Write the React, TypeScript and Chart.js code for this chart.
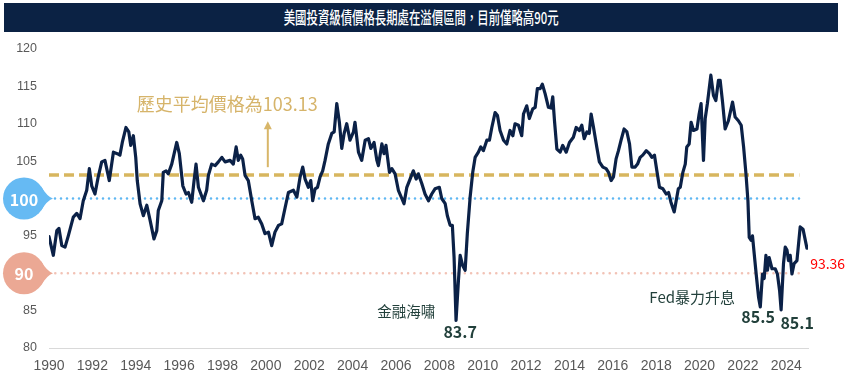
import React, { useEffect, useRef } from "react";
import { Chart, registerables } from "chart.js";

Chart.register(...registerables);

const years = [
  1990.00, 1990.20, 1990.36, 1990.46, 1990.59, 1990.74, 1990.89, 1991.12, 1991.28, 1991.43,
  1991.58, 1991.74, 1991.86, 1991.97, 1992.12, 1992.27, 1992.43, 1992.58, 1992.78, 1992.97,
  1993.15, 1993.27, 1993.38, 1993.55, 1993.68, 1993.77, 1993.89, 1994.00, 1994.07, 1994.20,
  1994.35, 1994.51, 1994.66, 1994.84, 1994.97, 1995.04, 1995.20, 1995.27, 1995.40, 1995.50,
  1995.66, 1995.89, 1996.01, 1996.17, 1996.32, 1996.43, 1996.58, 1996.69, 1996.78, 1996.89,
  1997.12, 1997.27, 1997.35, 1997.50, 1997.66, 1997.81, 1997.97, 1998.12, 1998.35, 1998.50,
  1998.63, 1998.73, 1998.84, 1998.93, 1999.04, 1999.19, 1999.35, 1999.50, 1999.65, 1999.81,
  1999.96, 2000.12, 2000.27, 2000.42, 2000.58, 2000.73, 2000.89, 2001.04, 2001.27, 2001.43,
  2001.58, 2001.70, 2001.81, 2001.96, 2002.07, 2002.16, 2002.27, 2002.38, 2002.50, 2002.62,
  2002.73, 2002.88, 2003.04, 2003.15, 2003.27, 2003.39, 2003.50, 2003.61, 2003.73, 2003.88,
  2004.04, 2004.11, 2004.27, 2004.42, 2004.58, 2004.73, 2004.84, 2004.99, 2005.12, 2005.19,
  2005.35, 2005.45, 2005.54, 2005.70, 2005.81, 2005.96, 2006.11, 2006.27, 2006.37, 2006.50,
  2006.65, 2006.80, 2006.93, 2007.03, 2007.19, 2007.34, 2007.50, 2007.65, 2007.80, 2008.00,
  2008.11, 2008.27, 2008.37, 2008.50, 2008.60, 2008.68, 2008.77, 2008.88, 2008.96, 2009.08,
  2009.19, 2009.29, 2009.42, 2009.54, 2009.65, 2009.80, 2009.91, 2010.03, 2010.19, 2010.31,
  2010.42, 2010.57, 2010.68, 2010.80, 2010.96, 2011.11, 2011.26, 2011.39, 2011.49, 2011.65,
  2011.80, 2011.88, 2012.03, 2012.15, 2012.31, 2012.42, 2012.52, 2012.65, 2012.75, 2012.88,
  2013.03, 2013.15, 2013.23, 2013.31, 2013.42, 2013.57, 2013.69, 2013.85, 2014.00, 2014.18,
  2014.31, 2014.46, 2014.57, 2014.68, 2014.80, 2014.91, 2015.00, 2015.11, 2015.26, 2015.38,
  2015.54, 2015.69, 2015.80, 2015.92, 2016.03, 2016.15, 2016.26, 2016.38, 2016.52, 2016.65,
  2016.77, 2016.88, 2017.03, 2017.14, 2017.26, 2017.38, 2017.54, 2017.69, 2017.80, 2017.92,
  2018.03, 2018.15, 2018.31, 2018.46, 2018.57, 2018.68, 2018.83, 2019.02, 2019.11, 2019.23,
  2019.34, 2019.41, 2019.52, 2019.61, 2019.72, 2019.88, 2019.98, 2020.07, 2020.18, 2020.26,
  2020.36, 2020.52, 2020.64, 2020.75, 2020.87, 2020.95, 2021.06, 2021.18, 2021.33, 2021.52,
  2021.64, 2021.79, 2021.92, 2022.03, 2022.14, 2022.23, 2022.29, 2022.38, 2022.44, 2022.52,
  2022.61, 2022.72, 2022.80, 2022.90, 2022.98, 2023.06, 2023.13, 2023.21, 2023.34, 2023.49,
  2023.59, 2023.69, 2023.76, 2023.87, 2023.95, 2024.03, 2024.10, 2024.18, 2024.26, 2024.36,
  2024.49, 2024.64, 2024.77, 2024.95,
];

const prices = [
  94.9, 92.4, 95.7, 96.0, 93.7, 93.5, 95.0, 97.5, 98.0, 97.3,
  99.7, 101.1, 104.0, 101.7, 100.6, 102.9, 104.9, 105.1, 102.4, 106.2,
  106.0, 105.8, 107.5, 109.5, 108.9, 107.1, 108.4, 105.5, 102.4, 99.3,
  97.7, 99.1, 97.1, 94.6, 95.7, 98.4, 99.7, 103.5, 103.7, 103.3,
  104.6, 107.5, 106.0, 101.7, 100.6, 100.8, 99.5, 102.4, 104.6, 101.5,
  99.7, 101.1, 103.1, 104.6, 104.4, 104.9, 105.5, 104.9, 105.1, 104.6,
  106.9, 105.1, 105.8, 105.3, 103.1, 102.4, 99.7, 97.3, 97.5, 96.6,
  95.3, 95.5, 93.7, 95.5, 96.4, 96.6, 98.8, 100.8, 101.1, 100.2,
  102.9, 104.2, 102.6, 101.5, 102.4, 99.7, 101.3, 101.5, 102.9, 103.7,
  105.1, 107.3, 108.7, 108.9, 112.7, 110.2, 106.7, 108.7, 110.0, 107.8,
  108.9, 110.2, 106.2, 105.1, 107.8, 108.0, 106.7, 107.5, 105.1, 104.4,
  107.3, 106.0, 107.1, 103.5, 104.0, 103.3, 101.1, 100.0, 99.3, 101.5,
  102.6, 103.7, 102.6, 103.3, 102.0, 100.6, 99.7, 100.6, 101.3, 101.5,
  100.0, 99.3, 97.7, 96.4, 96.4, 92.1, 83.7, 89.0, 92.4, 91.0,
  90.4, 95.3, 100.2, 103.5, 105.5, 106.2, 106.9, 106.4, 107.8, 107.8,
  109.5, 111.5, 111.1, 109.1, 107.8, 107.3, 109.1, 108.4, 110.0, 109.8,
  108.4, 111.3, 112.4, 110.7, 112.0, 112.2, 114.7, 114.7, 115.3, 114.0,
  112.2, 112.1, 113.6, 110.4, 106.6, 106.2, 107.1, 106.2, 107.5, 108.2,
  109.5, 109.1, 109.8, 108.0, 108.9, 108.7, 111.3, 109.5, 106.9, 104.9,
  104.2, 104.0, 103.5, 102.4, 102.9, 105.3, 106.4, 107.8, 109.3, 108.9,
  107.3, 104.2, 104.2, 104.6, 105.5, 105.8, 106.4, 106.0, 105.5, 105.8,
  103.7, 101.5, 101.3, 100.6, 100.8, 99.5, 98.2, 101.3, 101.5, 103.5,
  104.6, 106.9, 107.3, 110.2, 109.1, 109.3, 111.3, 112.7, 105.1, 110.7,
  112.7, 116.5, 113.8, 113.1, 115.8, 115.8, 112.9, 109.3, 110.4, 112.9,
  110.9, 110.4, 109.8, 106.9, 103.3, 99.7, 94.8, 94.4, 95.0, 92.6,
  89.9, 86.8, 85.5, 89.9, 89.3, 92.4, 90.4, 92.1, 90.6, 90.6,
  89.9, 87.7, 85.1, 91.3, 93.5, 93.1, 91.7, 92.4, 89.9, 91.3,
  91.7, 96.2, 95.9, 93.36,
];

const avgPrice = 103.13;
const parLevel = 100;
const floorLevel = 90;
const refLineRange = [1990, 2024.6];
const tickYears = [1990, 1992, 1994, 1996, 1998, 2000, 2002, 2004, 2006, 2008, 2010, 2012, 2014, 2016, 2018, 2020, 2022, 2024];
const yTickValues = [80, 85, 90, 95, 100, 105, 110, 115, 120];

const titleText = "美國投資級債價格長期處在溢價區間，目前僅略高90元";
const avgLabel = "歷史平均價格為103.13";
const gfcLabel = "金融海嘯";
const gfcLow = "83.7";
const fedLabel = "Fed暴力升息";
const fedLow1 = "85.5";
const fedLow2 = "85.1";
const lastLabel = "93.36";

const CJK = "'Noto Sans CJK TC', 'Noto Sans', sans-serif";

const overlayPlugin = {
  id: "overlay",
  afterDraw(chart: any) {
    const { ctx } = chart;
    const xs = chart.scales.x;
    const ys = chart.scales.y;
    const px = (v: number) => xs.getPixelForValue(v);
    const py = (v: number) => ys.getPixelForValue(v);
    ctx.save();

    // arrow
    const ax = px(2000.09);
    const aTop = py(110.34);
    const aBot = py(104.19);
    ctx.strokeStyle = "#d8b669";
    ctx.fillStyle = "#d8b669";
    ctx.lineWidth = 2;
    ctx.beginPath();
    ctx.moveTo(ax, aBot);
    ctx.lineTo(ax, aTop + 6);
    ctx.stroke();
    ctx.beginPath();
    ctx.moveTo(ax, aTop);
    ctx.lineTo(ax - 4, aTop + 8);
    ctx.lineTo(ax + 4, aTop + 8);
    ctx.closePath();
    ctx.fill();

    const text = (s: string, x: number, y: number, font: string, color: string, align: CanvasTextAlign = "center") => {
      ctx.font = font;
      ctx.fillStyle = color;
      ctx.textAlign = align;
      ctx.textBaseline = "middle";
      ctx.fillText(s, x, y);
    };

    text(avgLabel, px(1994.05), py(112.6), `18px ${CJK}`, "#d6b46a", "left");
    text(gfcLabel, px(2006.47), py(84.88), `14.5px ${CJK}`, "#22403b");
    text(gfcLow, px(2008.96), py(82.21), `bold 16px ${CJK}`, "#22403b");
    text(fedLabel, px(2019.66), py(86.76), `15px ${CJK}`, "#22403b");
    text(fedLow1, px(2022.7), py(84.22), `bold 16px ${CJK}`, "#22403b");
    text(fedLow2, px(2024.5), py(83.41), `bold 16px ${CJK}`, "#22403b");
    text(lastLabel, px(2025.1), py(91.3), `14px ${CJK}`, "#ff0000", "left");

    const bubble = (val: number, color: string, label: string) => {
      const cy = py(val);
      const cx = 24;
      const r = 21;
      const tip = 53;
      ctx.fillStyle = color;
      ctx.beginPath();
      ctx.arc(cx, cy, r, 0, Math.PI * 2);
      ctx.fill();
      const a = (35 * Math.PI) / 180;
      ctx.beginPath();
      ctx.moveTo(cx + r * Math.cos(a), cy - r * Math.sin(a));
      ctx.quadraticCurveTo(cx + r + 2, cy - 2, tip, cy);
      ctx.quadraticCurveTo(cx + r + 2, cy + 2, cx + r * Math.cos(a), cy + r * Math.sin(a));
      ctx.closePath();
      ctx.fill();
      text(label, cx, cy + 1, `bold 16px ${CJK}`, "#ffffff");
    };
    bubble(parLevel, "#66baf3", String(parLevel));
    bubble(floorLevel, "#eba894", String(floorLevel));

    ctx.restore();
  },
};

export default function App() {
  const ref = useRef<HTMLCanvasElement | null>(null);

  useEffect(() => {
    if (!ref.current) return;
    const points = years.map((x, i) => ({ x, y: prices[i] }));
    const hline = (v: number) => refLineRange.map((x) => ({ x, y: v }));
    const chart = new Chart(ref.current, {
      type: "line",
      data: {
        datasets: [
          {
            label: "價格",
            data: points,
            borderColor: "#0b2147",
            borderWidth: 3.2,
            pointRadius: 0,
            tension: 0,
            borderJoinStyle: "round",
            borderCapStyle: "round",
          },
          {
            label: "平均",
            data: hline(avgPrice),
            borderColor: "#d7b65f",
            borderWidth: 3.5,
            borderDash: [10, 5],
            pointRadius: 0,
          },
          {
            label: "100",
            data: hline(parLevel),
            borderColor: "#5fb7f2",
            borderWidth: 2.6,
            borderDash: [0, 6],
            borderCapStyle: "round",
            pointRadius: 0,
          },
          {
            label: "90",
            data: hline(floorLevel),
            borderColor: "#f2c2b5",
            borderWidth: 2.6,
            borderDash: [0, 6.3],
            borderCapStyle: "round",
            pointRadius: 0,
          },
        ],
      },
      options: {
        animation: false,
        responsive: false,
        devicePixelRatio: 1,
        layout: { padding: { top: 49, right: 40, left: 0, bottom: 0 } },
        plugins: { legend: { display: false }, tooltip: { enabled: false }, title: { display: false } },
        scales: {
          x: {
            type: "linear",
            min: 1990,
            max: 2025,
            afterBuildTicks: (s: any) => {
              s.ticks = tickYears.map((v) => ({ value: v }));
            },
            afterFit: (s: any) => {
              s.height = 23;
            },
            grid: { display: false },
            border: { display: true, color: "#d9d9d9", width: 1 },
            ticks: {
              autoSkip: false,
              maxRotation: 0,
              padding: 2,
              color: "#595959",
              font: { family: "'Liberation Sans Narrow', 'Liberation Sans', sans-serif", size: 14 },
              callback: (v: any) => String(v),
            },
          },
          y: {
            type: "linear",
            min: 80,
            max: 120,
            afterBuildTicks: (s: any) => {
              s.ticks = yTickValues.map((v) => ({ value: v }));
            },
            afterFit: (s: any) => {
              s.width = 49;
            },
            grid: { display: false, drawTicks: false },
            border: { display: false },
            ticks: {
              padding: 12,
              color: "#595959",
              font: { family: "'Liberation Sans', sans-serif", size: 12.5 },
              callback: (v: any) => (v === parLevel || v === floorLevel ? "" : String(v)),
            },
          },
        },
      },
      plugins: [overlayPlugin],
    } as any);
    return () => chart.destroy();
  }, []);

  return (
    <div style={{ position: "fixed", left: 0, top: 0, width: 848, height: 371, background: "#ffffff" }}>
      <canvas ref={ref} width={848} height={371} style={{ position: "absolute", left: 0, top: 0, width: 848, height: 371 }} />
      <div
        style={{
          position: "absolute",
          left: 4,
          top: 3,
          width: 834,
          height: 29,
          background: "#0b2244",
          display: "flex",
          alignItems: "center",
          justifyContent: "center",
          overflow: "hidden",
        }}
      >
        <span
          style={{
            color: "#ffffff",
            fontFamily: CJK,
            fontSize: 16.5,
            fontWeight: 500,
            display: "inline-block",
            whiteSpace: "nowrap",
            transform: "scaleX(0.69)",
            lineHeight: "29px",
          }}
        >
          {titleText}
        </span>
      </div>
    </div>
  );
}
